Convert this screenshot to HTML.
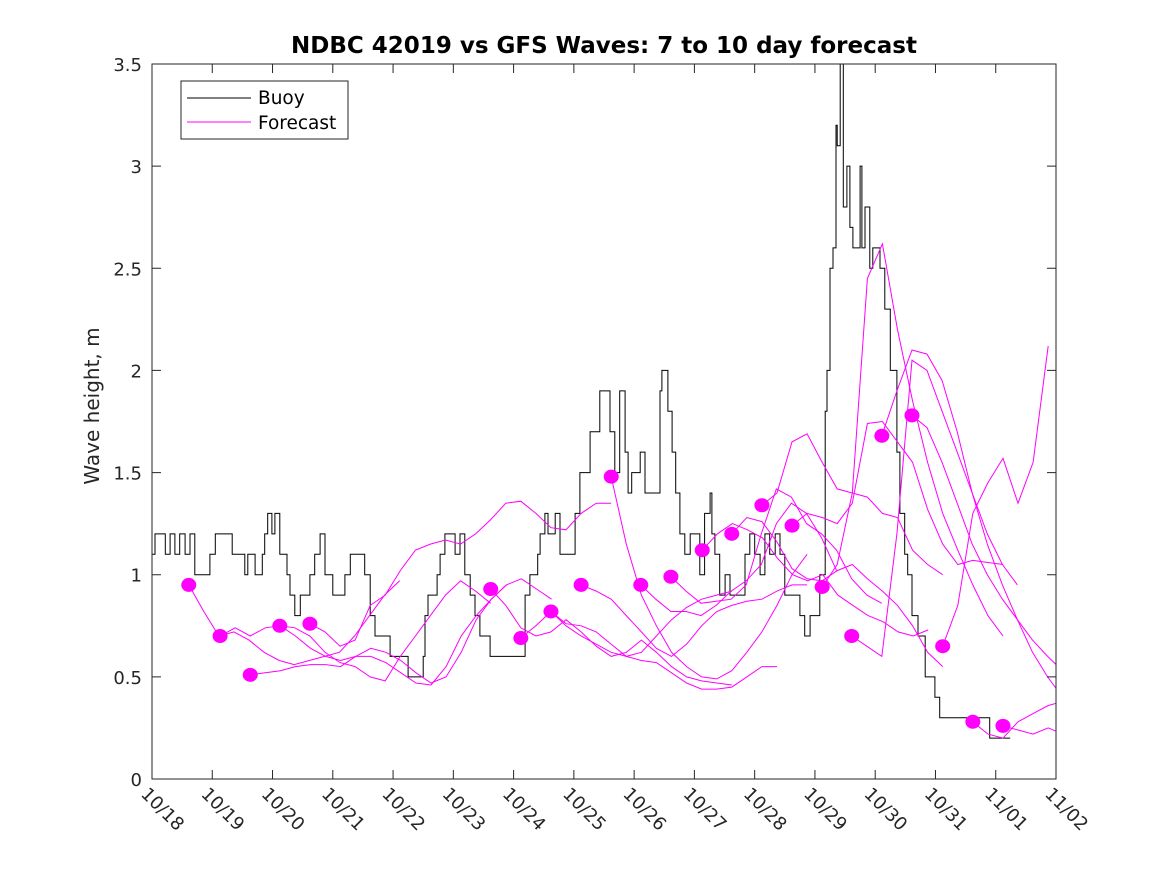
<!DOCTYPE html>
<html><head><meta charset="utf-8">
<style>
body{margin:0;background:#fff;}
svg{display:block;font-family:"DejaVu Sans","Liberation Sans",sans-serif;}
</style></head>
<body>
<svg id="chart" width="1167" height="875">
<defs><clipPath id="clipArea"><rect x="152" y="64" width="904" height="715"/></clipPath></defs>
<rect x="0" y="0" width="1167" height="875" fill="#fff"/>
<text x="604" y="53" text-anchor="middle" font-size="23" font-weight="bold" fill="#000">NDBC 42019 vs GFS Waves: 7 to 10 day forecast</text>
<text transform="translate(99,406) rotate(-90)" text-anchor="middle" font-size="20" fill="#262626">Wave height, m</text>
<g id="plot" clip-path="url(#clipArea)"></g>
<g id="axes"></g>
<g>
<rect x="181" y="81" width="167" height="58" fill="#fff" stroke="#262626" stroke-width="1"/>
<line x1="187" y1="98" x2="251" y2="98" stroke="#000" stroke-width="1"/>
<text x="258" y="104" font-size="18.5" fill="#000">Buoy</text>
<line x1="187" y1="122" x2="251" y2="122" stroke="#ff00ff" stroke-width="1"/>
<text x="258" y="129" font-size="18.5" fill="#000">Forecast</text>
</g>
</svg>
<script>
const xTickLabels=["10/18","10/19","10/20","10/21","10/22","10/23","10/24","10/25","10/26","10/27","10/28","10/29","10/30","10/31","11/01","11/02"];
const yTicks=[0,0.5,1,1.5,2,2.5,3,3.5];
const buoyDay=[0,.05,.22,.30,.38,.46,.55,.63,.71,.75,.96,1.05,1.13,1.33,1.38,1.54,1.59,1.71,1.83,1.87,1.92,1.99,2.04,2.12,2.24,2.29,2.37,2.46,2.62,2.70,2.79,2.87,3.00,3.12,3.20,3.29,3.45,3.53,3.62,3.70,3.95,4.25,4.50,4.53,4.58,4.73,4.78,4.86,5.03,5.11,5.19,5.28,5.36,5.44,5.49,5.61,5.81,6.14,6.19,6.27,6.40,6.44,6.52,6.57,6.69,6.77,6.85,7.02,7.10,7.18,7.27,7.35,7.43,7.60,7.68,7.76,7.85,7.90,7.96,8.10,8.18,8.26,8.43,8.46,8.51,8.56,8.63,8.69,8.76,8.84,8.93,9.09,9.17,9.26,9.29,9.34,9.42,9.51,9.59,9.67,9.84,9.92,10.00,10.09,10.17,10.25,10.34,10.42,10.50,10.59,10.75,10.83,10.92,11.00,11.08,11.17,11.20,11.25,11.30,11.35,11.37,11.42,11.47,11.53,11.58,11.63,11.66,11.75,11.78,11.83,11.91,11.96,12.01,12.08,12.16,12.25,12.29,12.36,12.41,12.49,12.54,12.61,12.71,12.83,12.99,13.07,13.24,13.90,13.99,14.24];
const buoyHeight=[1.1,1.2,1.1,1.2,1.1,1.2,1.1,1.2,1.0,1.0,1.1,1.2,1.2,1.1,1.1,1.0,1.1,1.0,1.1,1.2,1.3,1.2,1.3,1.1,1.0,0.9,0.8,0.9,1.0,1.1,1.2,1.0,0.9,0.9,1.0,1.1,1.1,1.0,0.8,0.7,0.6,0.5,0.6,0.8,0.9,1.0,1.1,1.2,1.1,1.2,1.0,0.9,0.8,0.7,0.7,0.6,0.6,0.6,0.9,1.0,1.1,1.2,1.3,1.2,1.3,1.1,1.1,1.3,1.5,1.5,1.7,1.7,1.9,1.7,1.5,1.9,1.6,1.4,1.5,1.6,1.4,1.4,1.9,2.0,2.0,1.8,1.6,1.4,1.2,1.1,1.2,1.0,1.3,1.4,1.2,1.1,0.9,1.0,0.9,0.9,1.1,1.2,1.1,1.0,1.2,1.1,1.2,1.1,0.9,0.9,0.8,0.7,0.8,0.8,1.0,1.8,2.0,2.5,2.6,3.2,3.1,3.5,2.8,3.0,2.7,2.6,2.6,3.0,2.6,2.8,2.5,2.6,2.6,2.5,2.3,2.0,2.0,1.6,1.3,1.1,1.0,0.8,0.7,0.5,0.4,0.3,0.3,0.2,0.2];
const forecastStart=[0.61,1.13,1.63,2.12,2.62,5.62,6.12,6.62,7.12,7.62,8.11,8.61,9.13,9.62,10.12,10.62,11.12,11.61,12.11,12.61,13.12,13.62,14.12];
const forecastValues=[
[0.95,0.82,0.70,0.72,0.68,0.62,0.58,0.56,0.58,0.60,0.62,0.70,0.80,0.90,0.97],
[0.70,0.74,0.70,0.74,0.75,0.70,0.64,0.60,0.58,0.60,0.64,0.62,0.58,0.52,0.47,0.50,0.62,0.78,0.88,0.95,0.98,0.93,0.88],
[0.51,0.52,0.53,0.55,0.56,0.56,0.55,0.60,0.60,0.57,0.52,0.47,0.46,0.55,0.70,0.80,0.88,0.95],
[0.75,0.74,0.70,0.62,0.57,0.55,0.50,0.48,0.60,0.70,0.80,0.90,0.97,0.92,0.86],
[0.76,0.72,0.65,0.68,0.85,0.90,1.02,1.12,1.15,1.17,1.15,1.20,1.27,1.35,1.36,1.30,1.23,1.22,1.30,1.35,1.35],
[0.93,0.85,0.74,0.70,0.72,0.78,0.72,0.65,0.60,0.62,0.68,0.62,0.55,0.50,0.48,0.47,0.46],
[0.69,0.75,0.82,0.75,0.70,0.66,0.62,0.60,0.58,0.57,0.52,0.47,0.44,0.44,0.45,0.50,0.55,0.55],
[0.82,0.76,0.75,0.72,0.66,0.60,0.62,0.70,0.78,0.84,0.88,0.90,0.92],
[0.95,0.92,0.88,0.80,0.72,0.64,0.60,0.66,0.75,0.82,0.85,0.87,0.88,0.92,0.95,0.95],
[1.48,1.15,0.90,0.75,0.62,0.55,0.50,0.49,0.53,0.62,0.72,0.85,1.00,1.10],
[0.95,0.88,0.82,0.82,0.80,0.85,0.92,0.97,1.05,1.25,1.35,1.30,1.18,1.02],
[0.99,0.92,0.86,0.87,0.88,0.95,1.20,1.42,1.38,1.25,1.20,1.12,0.98,0.90,0.86],
[1.12,1.20,1.25,1.22,1.18,1.08,1.00,0.97,1.00,0.90,0.85,0.80,0.77,0.72,0.70,0.73],
[1.20,1.28,1.26,1.16,1.03,0.98,0.97,1.02,1.05,0.98,0.92,0.85,0.75,0.62,0.55],
[1.34,1.40,1.65,1.69,1.55,1.42,1.40,1.38,1.30,1.28,1.12,1.05,1.00],
[1.24,1.30,1.28,1.25,1.35,1.74,1.75,1.65,1.55,1.32,1.15,1.05,1.07,1.06,1.05],
[0.94,1.05,1.40,2.45,2.62,2.20,1.85,1.55,1.30,1.12,0.95,0.80,0.70],
[0.70,0.65,0.60,1.20,2.05,2.00,1.80,1.60,1.40,1.20,1.05,0.95],
[1.68,1.90,2.10,2.08,1.95,1.70,1.40,1.15,0.95,0.78,0.62,0.50,0.40,0.32,0.25,0.20],
[1.78,1.72,1.55,1.35,1.15,1.00,0.88,0.78,0.68,0.60,0.53,0.46],
[0.65,0.85,1.30,1.45,1.57,1.35,1.55,2.12],
[0.28,0.22,0.20,0.28,0.32,0.36,0.38],
[0.26,0.24,0.22,0.25,0.22,0.30]
];
const forecastStep=0.25;

const X0=152,X1=1056,Y0=779,Y1=64,DAYS=15,YMAX=3.5;
function xs(d){return X0+(d/DAYS)*(X1-X0);}
function ys(v){return Y0-(v/YMAX)*(Y0-Y1);}
const NS="http://www.w3.org/2000/svg";
const plot=document.getElementById('plot');
const axes=document.getElementById('axes');

let dstr="";
for(let i=0;i<buoyDay.length;i++){
  const x=xs(buoyDay[i]).toFixed(1),y=ys(buoyHeight[i]).toFixed(1);
  if(i===0) dstr+="M"+x+" "+y;
  else dstr+=" H"+x+" V"+y;
}
const bp=document.createElementNS(NS,'path');
bp.setAttribute('d',dstr);bp.setAttribute('fill','none');bp.setAttribute('stroke','#000');bp.setAttribute('stroke-width','1');


plot.appendChild(bp);

for(let f=0;f<forecastStart.length;f++){
  const vals=forecastValues[f];
  const pts=vals.map((v,i)=>xs(forecastStart[f]+i*forecastStep).toFixed(1)+","+ys(v).toFixed(1)).join(" ");
  const pl=document.createElementNS(NS,'polyline');
  pl.setAttribute('points',pts);pl.setAttribute('fill','none');pl.setAttribute('stroke','#ff00ff');pl.setAttribute('stroke-width','1');
  
  
  plot.appendChild(pl);
  const c=document.createElementNS(NS,'ellipse');
  c.setAttribute('cx',xs(forecastStart[f]));c.setAttribute('cy',ys(vals[0]));c.setAttribute('rx','7.5');c.setAttribute('ry','7');c.setAttribute('fill','#ff00ff');
  
  
  plot.appendChild(c);
}

const box=document.createElementNS(NS,'rect');
box.setAttribute('x',X0);box.setAttribute('y',Y1);box.setAttribute('width',X1-X0);box.setAttribute('height',Y0-Y1);
box.setAttribute('fill','none');box.setAttribute('stroke','#262626');box.setAttribute('stroke-width','1');


axes.appendChild(box);

for(let i=0;i<xTickLabels.length;i++){
  const x=xs(i);
  const t1=document.createElementNS(NS,'path');
  t1.setAttribute('d',`M${x} ${Y0}V${Y0-9}M${x} ${Y1}V${Y1+9}`);t1.setAttribute('stroke','#262626');
  
  
  axes.appendChild(t1);
  const tx=document.createElementNS(NS,'text');
  tx.setAttribute('transform',`translate(${x-12},${Y0+16}) rotate(45)`);
  tx.setAttribute('font-size','18');tx.setAttribute('fill','#262626');
  tx.textContent=xTickLabels[i];
  
  
  axes.appendChild(tx);
}
for(const v of yTicks){
  const y=ys(v);
  const t1=document.createElementNS(NS,'path');
  t1.setAttribute('d',`M${X0} ${y}H${X0+9}M${X1} ${y}H${X1-9}`);t1.setAttribute('stroke','#262626');
  
  
  axes.appendChild(t1);
  const tx=document.createElementNS(NS,'text');
  tx.setAttribute('x',X0-10);tx.setAttribute('y',y+7);tx.setAttribute('text-anchor','end');
  tx.setAttribute('font-size','18');tx.setAttribute('fill','#262626');
  tx.textContent=String(v);
  
  
  axes.appendChild(tx);
}
</script>
</body></html>
